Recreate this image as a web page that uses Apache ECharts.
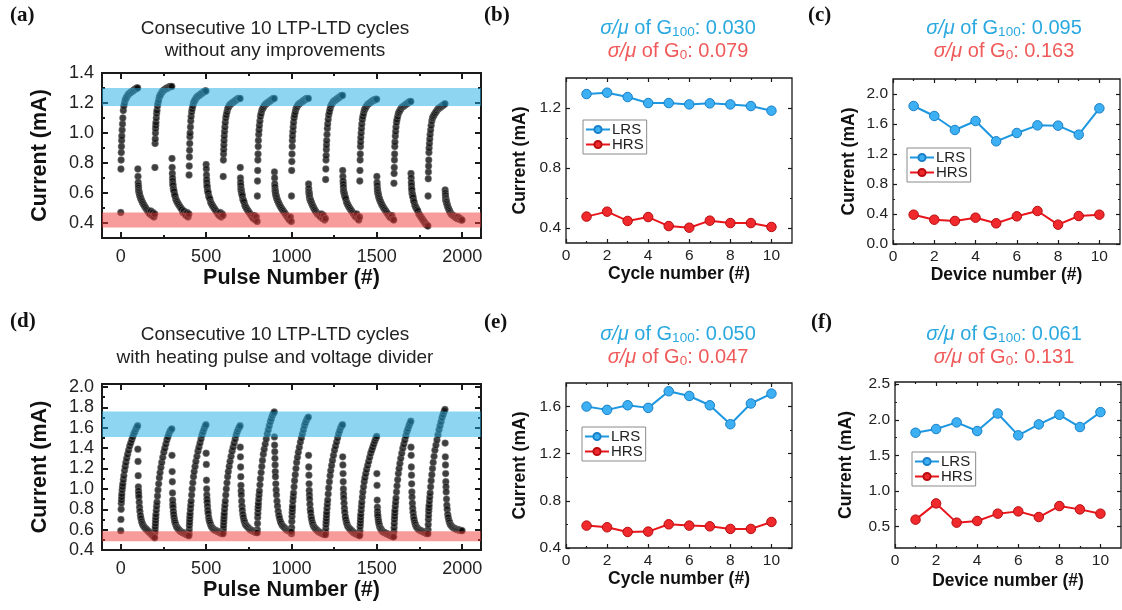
<!DOCTYPE html>
<html><head><meta charset="utf-8">
<script src="https://cdn.jsdelivr.net/npm/echarts@6/dist/echarts.min.js"></script>
<style>html,body{margin:0;padding:0;background:#fff}#c{width:1122px;height:610px}</style>
</head><body><div id="c"></div>
<script>
// ---------------- DATA ----------------
// pulse offsets inside each half-cycle (LTP: 0..99, LTD: 100..199)
const pulseOffsets = [0,1,2,3,4,5,6,8,10,12,15,18,22,26,30,35,40,46,52,58,64,70,76,82,88,94,99];
const cycleLength = 200;
const ltdStart = 100;

// (a) without improvements: LTP / LTD current (mA) per cycle
const aLTP = [
  [0.47,0.76,0.82,0.87,0.91,0.95,0.98,1.02,1.06,1.10,1.15,1.18,1.20,1.22,1.23,1.24,1.25,1.26,1.265,1.27,1.275,1.28,1.285,1.29,1.295,1.30,1.30],
  [0.77,0.93,0.96,1.00,1.03,1.05,1.07,1.10,1.13,1.15,1.18,1.20,1.22,1.24,1.25,1.26,1.27,1.28,1.285,1.29,1.295,1.30,1.30,1.305,1.31,1.31,1.31],
  [0.72,0.78,0.84,0.885,0.93,0.975,1.00,1.04,1.08,1.11,1.14,1.16,1.18,1.20,1.21,1.22,1.23,1.24,1.245,1.25,1.255,1.26,1.265,1.27,1.275,1.28,1.28],
  [0.71,0.82,0.86,0.89,0.92,0.95,0.98,1.01,1.04,1.07,1.10,1.12,1.14,1.16,1.17,1.18,1.19,1.195,1.20,1.205,1.21,1.215,1.22,1.225,1.23,1.23,1.23],
  [0.58,0.68,0.75,0.82,0.86,0.91,0.95,0.99,1.02,1.05,1.08,1.11,1.13,1.15,1.16,1.17,1.18,1.19,1.195,1.20,1.205,1.21,1.215,1.22,1.225,1.23,1.23],
  [0.58,0.75,0.81,0.86,0.91,0.95,0.98,1.01,1.04,1.07,1.10,1.12,1.14,1.16,1.17,1.18,1.19,1.195,1.20,1.205,1.21,1.215,1.22,1.225,1.23,1.23,1.23],
  [0.69,0.76,0.82,0.85,0.89,0.92,0.95,0.99,1.03,1.06,1.09,1.12,1.14,1.16,1.18,1.19,1.20,1.21,1.215,1.22,1.225,1.23,1.235,1.24,1.245,1.25,1.25],
  [0.68,0.75,0.82,0.86,0.91,0.94,0.97,1.00,1.03,1.06,1.09,1.11,1.13,1.15,1.16,1.17,1.18,1.19,1.195,1.20,1.205,1.21,1.215,1.22,1.22,1.225,1.225],
  [0.665,0.73,0.77,0.82,0.86,0.91,0.94,0.98,1.01,1.04,1.07,1.09,1.11,1.13,1.14,1.15,1.16,1.17,1.175,1.18,1.185,1.19,1.195,1.20,1.205,1.21,1.21],
  [0.58,0.695,0.74,0.78,0.82,0.87,0.90,0.93,0.96,0.99,1.02,1.05,1.08,1.10,1.11,1.12,1.13,1.14,1.15,1.16,1.165,1.17,1.175,1.18,1.185,1.19,1.195]
];
const aLTD = [
  [0.76,0.71,0.67,0.65,0.635,0.62,0.61,0.60,0.59,0.58,0.57,0.56,0.55,0.54,0.53,0.52,0.51,0.50,0.49,0.48,0.47,0.46,0.48,0.45,0.47,0.44,0.46],
  [0.83,0.77,0.73,0.70,0.68,0.66,0.65,0.63,0.62,0.61,0.59,0.58,0.56,0.55,0.54,0.53,0.52,0.51,0.50,0.49,0.47,0.48,0.46,0.45,0.47,0.44,0.46],
  [0.79,0.76,0.72,0.69,0.67,0.65,0.64,0.62,0.61,0.60,0.58,0.57,0.56,0.54,0.53,0.52,0.51,0.50,0.49,0.48,0.47,0.46,0.45,0.47,0.44,0.46,0.45],
  [0.77,0.70,0.67,0.65,0.63,0.62,0.61,0.60,0.59,0.58,0.56,0.55,0.54,0.52,0.51,0.50,0.49,0.48,0.47,0.46,0.45,0.44,0.43,0.45,0.42,0.44,0.41],
  [0.74,0.70,0.66,0.64,0.62,0.61,0.60,0.59,0.58,0.57,0.56,0.55,0.54,0.53,0.52,0.51,0.50,0.49,0.48,0.47,0.46,0.45,0.44,0.43,0.42,0.44,0.41],
  [0.66,0.63,0.61,0.60,0.59,0.58,0.57,0.56,0.55,0.55,0.54,0.53,0.52,0.51,0.50,0.49,0.48,0.47,0.46,0.455,0.45,0.44,0.46,0.43,0.45,0.42,0.43],
  [0.75,0.71,0.68,0.66,0.64,0.62,0.61,0.60,0.59,0.58,0.57,0.56,0.54,0.53,0.52,0.51,0.50,0.49,0.48,0.47,0.46,0.45,0.44,0.46,0.43,0.42,0.44],
  [0.71,0.67,0.65,0.63,0.62,0.61,0.60,0.59,0.58,0.57,0.56,0.55,0.54,0.53,0.52,0.51,0.50,0.49,0.48,0.47,0.46,0.45,0.44,0.435,0.45,0.425,0.42],
  [0.73,0.70,0.67,0.65,0.63,0.62,0.60,0.59,0.58,0.57,0.55,0.54,0.52,0.51,0.50,0.49,0.48,0.46,0.45,0.44,0.43,0.42,0.41,0.40,0.39,0.385,0.38],
  [0.62,0.60,0.585,0.57,0.56,0.55,0.545,0.54,0.53,0.52,0.51,0.50,0.49,0.48,0.47,0.46,0.455,0.45,0.445,0.44,0.435,0.43,0.44,0.425,0.43,0.42,0.42]
];

// (d) with heating pulse and voltage divider
const dLTP = [
  [0.59,0.70,0.80,0.86,0.89,0.92,0.95,0.99,1.02,1.05,1.09,1.13,1.18,1.22,1.26,1.30,1.34,1.38,1.42,1.45,1.48,1.51,1.54,1.56,1.585,1.605,1.62],
  [0.57,0.60,0.63,0.66,0.69,0.72,0.75,0.79,0.83,0.87,0.93,0.99,1.05,1.11,1.16,1.21,1.26,1.31,1.36,1.40,1.44,1.48,1.51,1.54,1.565,1.58,1.59],
  [0.56,0.60,0.64,0.67,0.70,0.73,0.76,0.80,0.84,0.88,0.94,1.00,1.06,1.12,1.17,1.22,1.27,1.32,1.37,1.41,1.45,1.49,1.53,1.56,1.59,1.615,1.63],
  [0.58,0.61,0.64,0.67,0.70,0.73,0.76,0.80,0.84,0.88,0.94,1.00,1.06,1.12,1.17,1.22,1.27,1.32,1.37,1.41,1.45,1.49,1.53,1.56,1.585,1.605,1.62],
  [0.60,0.66,0.72,0.76,0.80,0.83,0.86,0.90,0.94,0.98,1.04,1.10,1.16,1.22,1.28,1.34,1.39,1.44,1.49,1.54,1.58,1.62,1.66,1.69,1.72,1.74,1.755],
  [0.56,0.62,0.68,0.73,0.77,0.80,0.83,0.88,0.92,0.96,1.02,1.08,1.14,1.20,1.26,1.31,1.36,1.41,1.46,1.50,1.54,1.58,1.62,1.65,1.675,1.695,1.705],
  [0.57,0.61,0.65,0.68,0.71,0.74,0.77,0.81,0.85,0.89,0.95,1.01,1.07,1.13,1.18,1.23,1.28,1.33,1.38,1.42,1.46,1.50,1.54,1.57,1.60,1.62,1.63],
  [0.55,0.59,0.63,0.66,0.69,0.72,0.75,0.79,0.83,0.87,0.92,0.97,1.02,1.07,1.11,1.15,1.19,1.23,1.27,1.31,1.35,1.38,1.41,1.44,1.47,1.495,1.515],
  [0.58,0.62,0.66,0.70,0.73,0.76,0.79,0.83,0.87,0.91,0.97,1.03,1.09,1.15,1.20,1.25,1.30,1.35,1.40,1.44,1.48,1.52,1.56,1.59,1.62,1.645,1.665],
  [0.60,0.65,0.70,0.74,0.78,0.81,0.84,0.88,0.92,0.96,1.02,1.08,1.14,1.20,1.26,1.32,1.38,1.43,1.48,1.53,1.58,1.62,1.66,1.70,1.73,1.76,1.78]
];
const dLTD = [
  [1.39,1.27,1.13,1.02,0.98,0.95,0.92,0.87,0.82,0.78,0.74,0.71,0.68,0.66,0.645,0.63,0.62,0.61,0.60,0.59,0.58,0.57,0.56,0.55,0.54,0.53,0.52],
  [1.33,1.17,1.07,0.96,0.89,0.85,0.82,0.78,0.75,0.72,0.69,0.67,0.65,0.63,0.62,0.61,0.60,0.59,0.58,0.575,0.57,0.565,0.56,0.555,0.55,0.545,0.54],
  [1.35,1.24,1.085,1.00,0.94,0.90,0.87,0.83,0.79,0.76,0.72,0.69,0.67,0.65,0.63,0.62,0.61,0.60,0.595,0.59,0.585,0.58,0.575,0.57,0.565,0.56,0.56],
  [1.41,1.315,1.215,1.12,1.035,0.98,0.94,0.88,0.83,0.79,0.75,0.72,0.69,0.67,0.65,0.64,0.63,0.62,0.61,0.60,0.595,0.59,0.585,0.58,0.575,0.57,0.57],
  [1.51,1.43,1.365,1.30,1.235,1.17,1.12,1.05,0.99,0.94,0.88,0.83,0.78,0.74,0.71,0.68,0.66,0.64,0.63,0.62,0.61,0.60,0.595,0.59,0.585,0.58,0.58],
  [1.33,1.215,1.135,1.05,0.985,0.94,0.90,0.85,0.80,0.77,0.73,0.70,0.67,0.65,0.63,0.62,0.61,0.60,0.59,0.58,0.575,0.57,0.565,0.56,0.555,0.55,0.55],
  [1.315,1.235,1.15,1.07,1.00,0.95,0.91,0.86,0.81,0.77,0.73,0.70,0.67,0.65,0.63,0.62,0.61,0.60,0.59,0.58,0.57,0.565,0.56,0.555,0.55,0.545,0.54],
  [1.15,1.035,0.89,0.82,0.78,0.75,0.73,0.70,0.68,0.66,0.64,0.62,0.61,0.60,0.59,0.58,0.575,0.57,0.565,0.56,0.555,0.55,0.545,0.54,0.535,0.53,0.53],
  [1.41,1.33,1.215,1.135,1.05,0.97,0.92,0.86,0.81,0.77,0.73,0.70,0.67,0.65,0.63,0.62,0.61,0.60,0.595,0.59,0.585,0.58,0.575,0.57,0.565,0.56,0.56],
  [1.45,1.315,1.235,1.15,1.07,1.02,0.97,0.90,0.84,0.80,0.75,0.72,0.69,0.67,0.65,0.64,0.63,0.62,0.615,0.61,0.605,0.60,0.60,0.595,0.595,0.59,0.59]
];

const aBlueBand = [1.18, 1.30];
const aRedBand = [0.37, 0.47];
const dBlueBand = [1.51, 1.76];
const dRedBand = [0.485, 0.585];

const indexNumbers = [1,2,3,4,5,6,7,8,9,10];
const bLRS = [1.293,1.302,1.273,1.233,1.233,1.224,1.231,1.224,1.213,1.182];
const bHRS = [0.476,0.509,0.447,0.473,0.413,0.402,0.449,0.433,0.433,0.407];
const cLRS = [1.84,1.707,1.52,1.64,1.369,1.48,1.582,1.578,1.458,1.809];
const cHRS = [0.391,0.324,0.307,0.351,0.276,0.369,0.44,0.258,0.373,0.391];
const eLRS = [1.60,1.572,1.611,1.589,1.73,1.69,1.611,1.45,1.626,1.71];
const eHRS = [0.59,0.576,0.536,0.539,0.601,0.59,0.584,0.562,0.562,0.621];
const fLRS = [1.818,1.87,1.963,1.842,2.088,1.781,1.935,2.07,1.898,2.107];
const fHRS = [0.598,0.826,0.556,0.579,0.682,0.714,0.635,0.789,0.742,0.682];

// tick values
const pulseMajor = [0,500,1000,1500,2000];
const pulseMinor = [250,750,1250,1750];
const aYMajor = [0.4,0.6,0.8,1.0,1.2,1.4];
const aYMinor = [0.5,0.7,0.9,1.1,1.3];
const dYMajor = [0.4,0.6,0.8,1.0,1.2,1.4,1.6,1.8,2.0];
const dYMinor = [0.5,0.7,0.9,1.1,1.3,1.5,1.7,1.9];
const numMajor = [0,2,4,6,8,10];
const numMinor = [1,3,5,7,9];
const bYMajor = [0.4,0.8,1.2];
const bYMinor = [0.6,1.0];
const cYMajor = [0.0,0.4,0.8,1.2,1.6,2.0];
const cYMinor = [0.2,0.6,1.0,1.4,1.8];
const eYMajor = [0.4,0.8,1.2,1.6];
const eYMinor = [0.6,1.0,1.4];
const fYMajor = [0.5,1.0,1.5,2.0,2.5];
const fYMinor = [0.75,1.25,1.75,2.25];

// ---------------- BUILD ----------------
const FF = '"Liberation Sans", Arial, sans-serif';
const SERIF = '"Liberation Serif", "Times New Roman", serif';
const C_BLUE_TXT = '#2aa8e0', C_RED_TXT = '#f05a5a';

function pulsePoints(ltp, ltd) {
  const pts = [];
  ltp.forEach((vals, k) => vals.forEach((v, i) => pts.push([k * cycleLength + pulseOffsets[i], v])));
  ltd.forEach((vals, k) => vals.forEach((v, i) => pts.push([k * cycleLength + ltdStart + pulseOffsets[i], v])));
  return pts;
}

const grids = [], xAxes = [], yAxes = [], series = [];

function axisSet(gi, dim, c) {
  const pos = dim === 'x' ? ['bottom', 'top'] : ['left', 'right'];
  const base = () => ({
    type: 'value', gridIndex: gi, min: c.min, max: c.max,
    axisLine: { show: false, onZero: false }, splitLine: { show: false },
    minorTick: { show: false }, minorSplitLine: { show: false }, silent: true
  });
  const tick = (vals, len) => ({ show: true, inside: true, length: len, customValues: vals,
    lineStyle: { color: '#1a1a1a', width: c.tw } });
  const out = [];
  const main = base();
  main.position = pos[0];
  main.axisTick = tick(c.major, c.majorLen);
  main.axisLabel = { show: true, customValues: c.major, formatter: c.fmt, fontSize: c.fs,
    color: '#222', margin: c.margin, fontFamily: FF };
  main.name = c.name; main.nameLocation = 'middle'; main.nameGap = c.nameGap;
  main.nameTextStyle = { fontSize: c.nameFs, fontWeight: 'bold', color: '#111', fontFamily: FF };
  out.push(main);
  [[pos[0], c.minor, c.minorLen], [pos[1], c.major, c.majorLen], [pos[1], c.minor, c.minorLen]].forEach(([p, v, l]) => {
    const a = base(); a.position = p; a.axisTick = tick(v, l); a.axisLabel = { show: false };
    out.push(a);
  });
  return out;
}

function addPanel(p) {
  const gi = grids.length;
  grids.push({ left: p.left, top: p.top, width: p.width, height: p.height, show: true,
    borderColor: '#1a1a1a', borderWidth: p.bw, backgroundColor: 'rgba(0,0,0,0)',
    containLabel: false, outerBoundsMode: 'none' });
  const xi = xAxes.length, yi = yAxes.length;
  xAxes.push(...axisSet(gi, 'x', p.x));
  yAxes.push(...axisSet(gi, 'y', p.y));
  return { xi, yi };
}

const f1 = v => v.toFixed(1);
const f0 = v => String(v);

// horizontal band drawn over the points, through the axis scale
function bandSeries(ax, band, color) {
  return { type: 'custom', xAxisIndex: ax.xi, yAxisIndex: ax.yi, z: 10, silent: true, animation: false,
    data: [[band[0], band[1]]],
    renderItem: (params, api) => {
      const cs = params.coordSys;
      const y0 = api.coord([0, api.value(0)])[1];
      const y1 = api.coord([0, api.value(1)])[1];
      return { type: 'rect', shape: { x: cs.x, y: Math.min(y0, y1), width: cs.width, height: Math.abs(y1 - y0) },
        style: { fill: color } };
    } };
}

function bigPanel(top, height, yMin, yMax, yMajor, yMinor, pts, blue, red) {
  const ax = addPanel({ left: 102, top, width: 379, height, bw: 2,
    x: { min: -110, max: 2110, major: pulseMajor, minor: pulseMinor, fmt: f0, fs: 18, margin: 10,
         name: 'Pulse Number (#)', nameGap: 29, nameFs: 21.5, majorLen: 6, minorLen: 3, tw: 2 },
    y: { min: yMin, max: yMax, major: yMajor, minor: yMinor, fmt: f1, fs: 18, margin: 8,
         name: 'Current (mA)', nameGap: 51, nameFs: 21.5, majorLen: 6, minorLen: 3, tw: 2 } });
  series.push({ type: 'scatter', xAxisIndex: ax.xi, yAxisIndex: ax.yi, data: pts, symbol: 'circle',
    symbolSize: 6.8, itemStyle: { color: '#0e0e0e', borderColor: '#8c8c8c', borderWidth: 0.6 },
    z: 2, silent: true, animation: false });
  series.push(bandSeries(ax, blue, 'rgba(30,172,228,0.5)'));
  series.push(bandSeries(ax, red, 'rgba(240,56,56,0.5)'));
}

bigPanel(73, 165, 0.3, 1.4, aYMajor, aYMinor, pulsePoints(aLTP, aLTD), aBlueBand, aRedBand);
bigPanel(384, 166, 0.4, 2.03, dYMajor, dYMinor, pulsePoints(dLTP, dLTD), dBlueBand, dRedBand);

function smallPanel(left, top, width, height, yMin, yMax, yMajor, yMinor, xName, yGap, xGap, lrs, hrs) {
  const ax = addPanel({ left, top, width, height, bw: 1.3,
    x: { min: 0, max: 11, major: numMajor, minor: numMinor, fmt: f0, fs: 15.5, margin: 5,
         name: xName, nameGap: xGap, nameFs: 17.5, majorLen: 4, minorLen: 2, tw: 1.2 },
    y: { min: yMin, max: yMax, major: yMajor, minor: yMinor, fmt: f1, fs: 15.5, margin: 5,
         name: 'Current (mA)', nameGap: yGap, nameFs: 17.5, majorLen: 4, minorLen: 2, tw: 1.2 } });
  series.push({ type: 'line', name: 'LRS', xAxisIndex: ax.xi, yAxisIndex: ax.yi,
    data: indexNumbers.map((n, i) => [n, lrs[i]]), symbol: 'circle', symbolSize: 9.5,
    lineStyle: { color: '#1c97e0', width: 2 },
    itemStyle: { color: '#3cb0f2', borderColor: '#1a80c8', borderWidth: 1 }, animation: false, silent: true });
  series.push({ type: 'line', name: 'HRS', xAxisIndex: ax.xi, yAxisIndex: ax.yi,
    data: indexNumbers.map((n, i) => [n, hrs[i]]), symbol: 'circle', symbolSize: 9.5,
    lineStyle: { color: '#e8161c', width: 2 },
    itemStyle: { color: '#f0292c', borderColor: '#b80c10', borderWidth: 1 }, animation: false, silent: true });
}

smallPanel(566, 78, 226, 165, 0.3, 1.4, bYMajor, bYMinor, 'Cycle number (#)', 37, 20, bLRS, bHRS);
smallPanel(893, 79, 227, 165, 0.0, 2.2, cYMajor, cYMinor, 'Device number (#)', 35, 21, cLRS, cHRS);
smallPanel(566, 383, 226, 165, 0.4, 1.8, eYMajor, eYMinor, 'Cycle number (#)', 37, 21, eLRS, eHRS);
smallPanel(895, 382, 226, 166, 0.2, 2.53, fYMajor, fYMinor, 'Device number (#)', 40, 24, fLRS, fHRS);

function legendAt(left, top) {
  return { left, top, orient: 'vertical', itemGap: 0, itemWidth: 24, itemHeight: 9,
    padding: [2, 3, 2, 2], borderColor: '#8a8a8a', borderWidth: 1, backgroundColor: '#fff',
    textStyle: { fontSize: 15, color: '#222', fontFamily: FF, padding: [0, 0, 0, -3] },
    data: ['LRS', 'HRS'], selectedMode: false };
}

function txt(x, y, text, opts) {
  return { type: 'text', x, y, silent: true, z: 100,
    style: Object.assign({ text, fill: '#222', fontSize: 19, fontFamily: FF,
      align: 'center', verticalAlign: 'middle' }, opts || {}) };
}
function stat(x, y, sub, value, color) {
  return txt(x, y, '{i|σ/μ} of G{s|' + sub + '}: ' + value, {
    fill: color, fontSize: 20, rich: {
      i: { fontStyle: 'italic', fontSize: 20, fill: color, fontFamily: FF },
      s: { fontSize: 13.5, fill: color, fontFamily: FF, verticalAlign: 'bottom', padding: [8, 0, 0, 0] }
    } });
}
const panelLbl = (x, y, t) => txt(x, y, t, { align: 'left', fontFamily: SERIF, fontWeight: 'bold', fontSize: 21, fill: '#111' });

const graphics = [
  panelLbl(10, 16, '(a)'), panelLbl(484, 16, '(b)'), panelLbl(808, 16, '(c)'),
  panelLbl(10, 322, '(d)'), panelLbl(484, 323, '(e)'), panelLbl(811, 323, '(f)'),
  txt(275, 28.5, 'Consecutive 10 LTP-LTD cycles'),
  txt(275, 51, 'without any improvements'),
  txt(275, 335, 'Consecutive 10 LTP-LTD cycles'),
  txt(275, 358, 'with heating pulse and voltage divider'),
  stat(678, 28, '100', '0.030', C_BLUE_TXT), stat(678, 51, '0', '0.079', C_RED_TXT),
  stat(1004, 28, '100', '0.095', C_BLUE_TXT), stat(1004, 51, '0', '0.163', C_RED_TXT),
  stat(678, 334, '100', '0.050', C_BLUE_TXT), stat(678, 357.5, '0', '0.047', C_RED_TXT),
  stat(1004, 334.5, '100', '0.061', C_BLUE_TXT), stat(1004, 357.5, '0', '0.131', C_RED_TXT)
];

const chart = echarts.init(document.getElementById('c'), null, { renderer: 'canvas' });
chart.setOption({
  backgroundColor: '#fff',
  animation: false,
  grid: grids,
  xAxis: xAxes,
  yAxis: yAxes,
  legend: [legendAt(583, 120), legendAt(907, 148), legendAt(582, 427), legendAt(912, 452)],
  series,
  graphic: graphics
});
</script>
</body></html>
